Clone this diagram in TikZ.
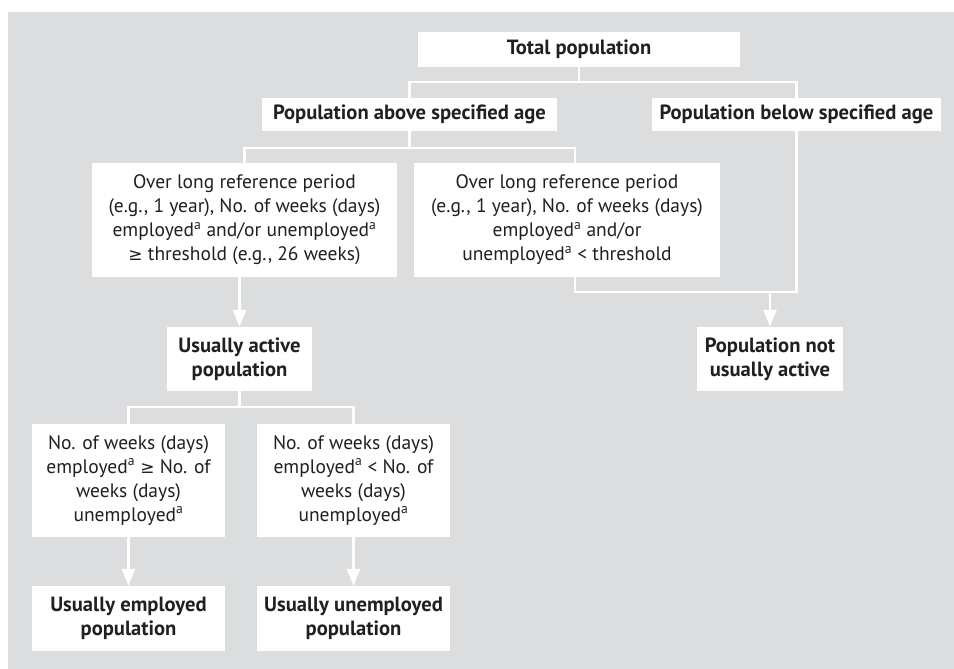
\documentclass[tikz,border=0pt]{standalone}
\usepackage{fontspec}
\setmainfont{PT Sans}
\newfontfamily\symfont{DejaVu Sans}
\usetikzlibrary{arrows.meta}
\definecolor{bggray}{RGB}{220,221,223}
\definecolor{ink}{RGB}{35,31,32}
\newcommand{\supa}{\textsuperscript{a}}
\newcommand{\geqsign}{{\symfont\fontsize{17}{24}\selectfont ≥}}
\begin{document}
\begin{tikzpicture}[x=1pt,y=1pt,
  box/.style={fill=white,text=ink,align=center,inner sep=0pt,font=\fontsize{19.5}{24}\selectfont},
  head/.style={box,font=\fontsize{20.6}{24}\selectfont\bfseries},
  link/.style={draw=white,line width=2.6pt},
  arr/.style={link,-{Triangle[width=13pt,length=17pt]}}]
\useasboundingbox (0,0) rectangle (954,669);
\fill[bggray] (8,0) rectangle (954,657); %background
% top level
\node[head,minimum width=322,minimum height=35] (total) at (579,619.5) {Total population};
\node[head,minimum width=295,minimum height=33] (above) at (409.5,554.5) {Population above specified age};
\node[head,minimum width=289,minimum height=33] (below) at (796.5,554.5) {Population below specified age};
% long reference period
\node[box,minimum width=305,minimum height=114] (longge) at (244.5,449) {Over long reference period\\(e.g., 1 year), No. of weeks (days)\\employed\supa{} and/or unemployed\supa\\\geqsign{} threshold (e.g., 26 weeks)};
\node[box,minimum width=306,minimum height=114] (longlt) at (567,449) {Over long reference period\\(e.g., 1 year), No. of weeks (days)\\employed\supa{} and/or\\unemployed\supa{} < threshold};
\node[head,minimum width=145,minimum height=64] (active) at (239.5,310) {Usually active\\population};
\node[head,minimum width=146,minimum height=64] (notactive) at (770,310) {Population not\\usually active};
% weeks employed vs unemployed
\node[box,minimum width=193,minimum height=113] (empge) at (128.5,188.5) {No. of weeks (days)\\employed\supa{} \geqsign{} No. of\\weeks (days)\\unemployed\supa};
\node[box,minimum width=193,minimum height=113] (emplt) at (353.5,188.5) {No. of weeks (days)\\employed\supa{} < No. of\\weeks (days)\\unemployed\supa};
\node[head,minimum width=193,minimum height=65] (employed) at (128.5,50.5) {Usually employed\\population};
\node[head,minimum width=193,minimum height=65] (unemployed) at (353.5,50.5) {Usually unemployed\\population};
% connectors
\coordinate (j1) at (579,587);
\draw[link] (total.south) -- (j1);
\draw[link] (above.north) |- (j1) -| (below.north);
\coordinate (j2) at (409.5,521);
\draw[link] (above.south) -- (j2);
\draw[link] (longge.north) |- (j2) -| ([xshift=8]longlt.north);
\coordinate (j3) at (770,377);
\draw[link] ([xshift=8]longlt.south) |- (below.south |- j3) -- (below.south);
\draw[arr] (j3) -- (notactive.north);
\draw[arr] (active.north |- longge.south) -- (active.north);
\coordinate (j4) at (239.5,262);
\draw[link] (active.south) -- (j4);
\draw[link] (empge.north) |- (j4) -| (emplt.north);
\draw[arr] (empge) -- (employed);
\draw[arr] (emplt) -- (unemployed);
\end{tikzpicture}
\end{document}
